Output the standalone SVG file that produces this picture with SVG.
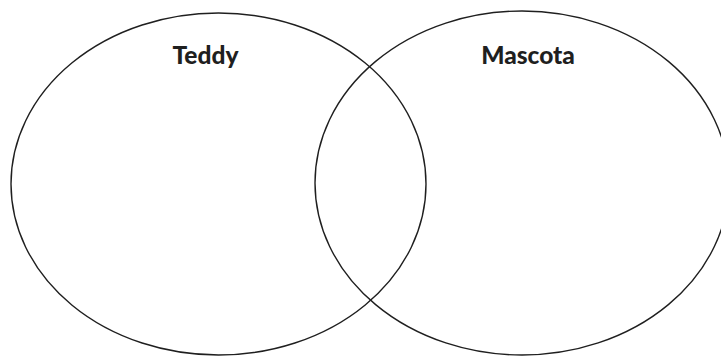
<svg xmlns="http://www.w3.org/2000/svg" width="721" height="356" viewBox="0 0 721 356">
<style>
.c{fill:none;stroke:#1f1f1f;stroke-width:1.4}
.t{font-family:Lato,"Noto Sans",sans-serif;font-weight:900;font-size:24.5px;fill:#1f1f1f;text-anchor:middle}
</style>
<rect width="721" height="356" fill="#fff"/>
<g id="teddy">
<ellipse class="c" cx="218.5" cy="184" rx="207.5" ry="171"/>
<text class="t" x="205.5" y="64">Teddy</text>
</g>
<g id="mascota">
<ellipse class="c" cx="522" cy="183" rx="207" ry="172"/>
<text class="t" x="528" y="64">Mascota</text>
</g>
<g id="connectors"></g>
</svg>
